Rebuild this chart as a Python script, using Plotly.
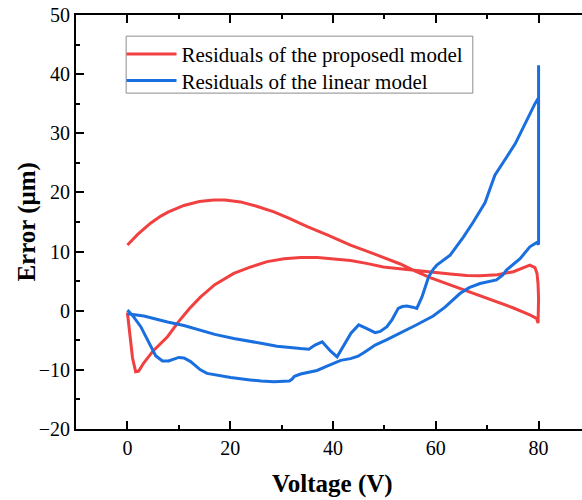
import plotly.graph_objects as go

# Residuals of the proposed model (rising voltage branch, then falling branch)
proposed_v = [0, 0.3, 0.6, 1.0, 1.6, 2.2, 3.2, 5, 7.8, 10, 12, 14.2, 17, 20.7, 24, 27.2,
              30.5, 33.7, 37, 40.1, 43.4, 46.5, 49.8, 53, 56, 58.9, 62.8, 66, 68.6, 72,
              75.1, 78.3, 79.3, 79.7, 79.9, 80, 80, 79.9,
              79.6, 78.3, 75, 71.8, 66.7, 62.8, 58.9, 56, 53.1, 48, 43.4, 39, 35, 31.5,
              28.5, 25, 22, 19, 16.8, 14, 11, 8, 6.5, 4.5, 3, 2, 1, 0]
proposed_err = [-0.3, -3, -5.0, -8, -10.3, -10.2, -8.8, -6.8, -4.4, -1.8, 0.3, 2.3, 4.4,
                6.3, 7.4, 8.3, 8.8, 9.0, 9.0, 8.8, 8.5, 8.0, 7.4, 7.1, 6.8, 6.6, 6.2, 5.95,
                5.9, 6.1, 6.6, 7.7, 7.3, 6.3, 4.5, 2, -0.5, -2.1,
                -1.3, -0.7, 0.5, 1.5, 3.2, 4.3, 5.6, 6.7, 7.9, 9.6, 11.1, 12.8, 14.2, 15.6,
                16.7, 17.7, 18.4, 18.7, 18.7, 18.45, 17.8, 16.7, 16.0, 14.8, 13.7, 12.9,
                12.0, 11.1]

# Residuals of the linear model (rising voltage branch, then falling branch)
linear_v = [0, 1, 2.6, 4.5, 5.5, 6.8, 8, 10, 11, 12.3, 14.2, 15.5, 17.5, 20.1, 23.9, 26,
            28.5, 31.5, 32, 32.5, 33.7, 35.6, 36.9, 38.5, 40.1, 41.5, 43.4, 44.9, 46.5,
            48.2, 50.5, 53.1, 56, 59.5, 61.8, 64.7, 66.5, 68.6, 70, 71.8, 73, 73.8, 76.4,
            78.3, 79.6, 80, 80,
            80, 79.3, 77, 75.5, 73.8, 72.5, 71.5, 70.5, 69.6, 67.3, 65.4, 62.8, 60.2, 59.5,
            58.6, 57.3, 56.3, 55.5, 54.4, 53.5, 52.7, 51.5, 50.5, 49.2, 48.2, 46.5, 45,
            43.5, 42, 40.8, 39.5, 37.9, 36.5, 35.3, 33.7, 31, 29.1, 26, 22.6, 20.7, 17,
            14.2, 11, 7.8, 5, 3.2, 0]
linear_err = [0.1, -0.8, -2.7, -6.1, -7.6, -8.5, -8.5, -7.9, -8.0, -8.6, -10.0, -10.6,
              -10.9, -11.3, -11.7, -11.9, -12.0, -11.9, -11.6, -11.1, -10.7, -10.3, -10.1,
              -9.5, -8.9, -8.4, -8.1, -7.7, -6.8, -5.8, -4.9, -3.8, -2.5, -0.9, 0.6, 2.9,
              3.9, 4.6, 4.9, 5.2, 6.0, 6.9, 8.8, 10.8, 11.5, 11.2, 41.5,
              36, 35.0, 30.8, 28.3, 26.0, 24.2, 22.9, 20.5, 18.3, 15.0, 12.5, 9.4, 7.7, 7.0,
              5.7, 2.3, 0.4, 0.6, 0.8, 0.7, 0.4, -1.5, -2.7, -3.5, -3.7, -3.0, -2.4, -3.8,
              -6.0, -7.8, -6.8, -5.25, -5.8, -6.5, -6.4, -6.2, -6.0, -5.5, -5.0, -4.7,
              -4.0, -3.3, -2.5, -1.9, -1.3, -0.9, -0.5]

series_names = ["Residuals of the proposedl model", "Residuals of the linear model"]
series_colors = ["#F14040", "#1A6FDF"]

x_ticks = [0, 20, 40, 60, 80]
y_ticks = [-20, -10, 0, 10, 20, 30, 40, 50]

SERIF = "Liberation Serif, Times New Roman, serif"

fig = go.Figure()
fig.add_trace(go.Scatter(x=proposed_v, y=proposed_err, mode="lines", name=series_names[0],
                         line=dict(color=series_colors[0], width=3), legend="legend"))
fig.add_trace(go.Scatter(x=linear_v, y=linear_err, mode="lines", name=series_names[1],
                         line=dict(color=series_colors[1], width=3), legend="legend2"))

axis_common = dict(
    showline=True, linecolor="black", linewidth=2,
    ticks="inside", ticklen=8, tickwidth=2, tickcolor="black",
    showgrid=False, zeroline=False,
    tickfont=dict(family=SERIF, size=20, color="black"),
)

fig.update_xaxes(range=[-10, 88.45], tickvals=x_ticks, mirror="ticks",
                 minor=dict(dtick=10, tick0=0, ticks="inside", ticklen=4, tickwidth=2,
                            tickcolor="black", showgrid=False),
                 **axis_common)
fig.update_yaxes(range=[-20, 50], tickvals=y_ticks, mirror=False,
                 minor=dict(dtick=5, tick0=0, ticks="inside", ticklen=4, tickwidth=2,
                            tickcolor="black", showgrid=False),
                 **axis_common)

fig.add_annotation(text="<b>Voltage (V)</b>", xref="paper", yref="paper",
                   x=0.5064, y=-0.1327, xanchor="center", yanchor="middle",
                   showarrow=False, font=dict(family=SERIF, size=25, color="black"))
fig.add_annotation(text="<b>Error (μm)</b>", xref="paper", yref="paper",
                   x=-0.0977, y=0.5, xanchor="center", yanchor="middle", textangle=-90,
                   showarrow=False, font=dict(family=SERIF, size=25, color="black"))

# Shared frame behind the two single-entry legends
fig.add_shape(type="rect", xref="paper", yref="paper",
              x0=0.0991, x1=0.7842, y0=0.8113, y1=0.9489,
              line=dict(color="#8c8c8c", width=1), fillcolor="white", layer="above")

legend_common = dict(xanchor="left", yanchor="top", borderwidth=0,
                     bgcolor="rgba(0,0,0,0)", itemwidth=50,
                     font=dict(family=SERIF, size=21, color="black"))

fig.update_layout(
    width=582, height=500,
    margin=dict(l=75.5, r=0, t=14.5, b=71),
    paper_bgcolor="white", plot_bgcolor="white",
    showlegend=True,
    legend=dict(x=0.0899, y=0.9546, **legend_common),
    legend2=dict(x=0.0899, y=0.8902, **legend_common),
)

fig.write_html("out.html")
